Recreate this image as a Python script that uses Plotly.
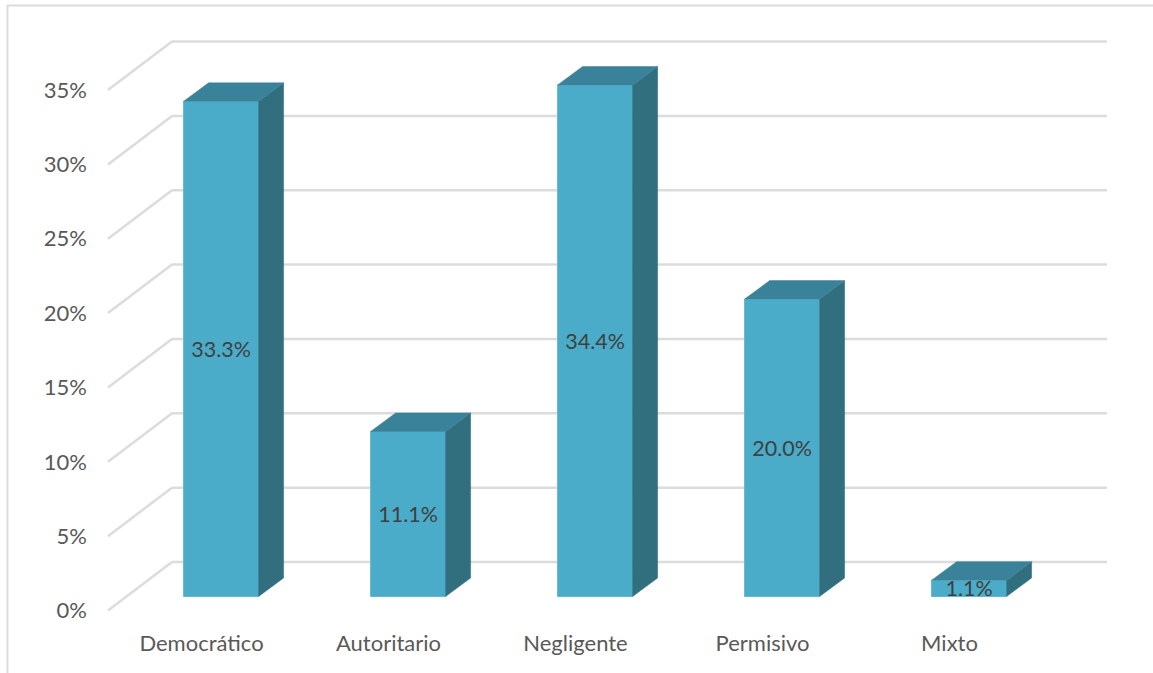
import plotly.graph_objects as go

categories = ["Democrático", "Autoritario", "Negligente", "Permisivo", "Mixto"]
values = [33.3, 11.1, 34.4, 20.0, 1.1]
labels = ["33.3%", "11.1%", "34.4%", "20.0%", "1.1%"]
y_ticks = [0, 5, 10, 15, 20, 25, 30, 35]
y_tick_labels = ["0%", "5%", "10%", "15%", "20%", "25%", "30%", "35%"]

# Pixel geometry of the pseudo-3D projection
W, H = 1153, 673
LEFT, RIGHT, TOP, BOTTOM = 100.0, 1115.0, 34.0, 620.0   # plot area in pixels
FRONT_LEFT, FRONT_ZERO = 108.0, 610.5                    # where x=-0.5, y=0 fall
PX_PER_CAT = 187.0
PX_PER_PCT = 14.87
to_x = lambda px: px / PX_PER_CAT
to_y = lambda px: px / PX_PER_PCT

x0_front = -0.5
x_min = x0_front - to_x(FRONT_LEFT - LEFT)
x_max = x0_front + to_x(RIGHT - FRONT_LEFT)
y_min = -to_y(BOTTOM - FRONT_ZERO)
y_max = to_y(FRONT_ZERO - TOP)
grid_end = x0_front + to_x(1107 - FRONT_LEFT)

wall_dx, wall_dy = to_x(64), to_y(48.5)
bar_dx, bar_base = to_x(19.6), to_y(14)
bar_w = to_x(75)
dep_x, dep_y = to_x(25), to_y(18.5)

FRONT, TOPC, SIDE = "#4aacc8", "#3a8299", "#316e7e"
GRID, TEXT, LABEL = "#dcdcdc", "#595959", "#404040"
FONT = "Lato, Carlito, Calibri, sans-serif"

fig = go.Figure()

xs = [i + bar_dx for i in range(len(categories))]

fig.add_trace(go.Bar(
    x=xs, y=values, base=[bar_base] * len(values), width=bar_w,
    marker=dict(color=FRONT, line=dict(color="#62b8d0", width=1)),
    showlegend=False, hoverinfo="skip",
))

for x, v in zip(xs, values):
    l, r = x - bar_w / 2, x + bar_w / 2
    b, t = bar_base, bar_base + v
    fig.add_trace(go.Scatter(
        x=[r, r + dep_x, r + dep_x, r, r], y=[b, b + dep_y, t + dep_y, t, b],
        mode="lines", fill="toself", fillcolor=SIDE,
        line=dict(color=SIDE, width=0.5),
        showlegend=False, hoverinfo="skip", cliponaxis=False,
    ))
    fig.add_trace(go.Scatter(
        x=[l, l + dep_x, r + dep_x, r, l], y=[t, t + dep_y, t + dep_y, t, t],
        mode="lines", fill="toself", fillcolor=TOPC,
        line=dict(color=TOPC, width=0.5),
        showlegend=False, hoverinfo="skip", cliponaxis=False,
    ))

fig.add_trace(go.Scatter(
    x=xs, y=[bar_base + v / 2 - to_y(2.5) for v in values],
    mode="text", text=labels, textposition="middle center",
    textfont=dict(family=FONT, size=21.5, color=LABEL),
    showlegend=False, hoverinfo="skip", cliponaxis=False,
))

shapes = []
for v in y_ticks:
    shapes.append(dict(type="line", xref="x", yref="y", layer="below",
                       x0=x0_front, y0=v, x1=x0_front + wall_dx, y1=v + wall_dy,
                       line=dict(color=GRID, width=2.5)))
    shapes.append(dict(type="line", xref="x", yref="y", layer="below",
                       x0=x0_front + wall_dx, y0=v + wall_dy, x1=grid_end, y1=v + wall_dy,
                       line=dict(color=GRID, width=2.5)))
# Outer chart frame: top and left edges only
px = lambda p: (p - LEFT) / (RIGHT - LEFT)
py = lambda p: (BOTTOM - p) / (BOTTOM - TOP)
shapes.append(dict(type="line", xref="paper", yref="paper", layer="below",
                   x0=px(7), x1=px(W), y0=py(5.5), y1=py(5.5),
                   line=dict(color=GRID, width=2)))
shapes.append(dict(type="line", xref="paper", yref="paper", layer="below",
                   x0=px(7.5), x1=px(7.5), y0=py(5), y1=py(H),
                   line=dict(color=GRID, width=2)))

fig.update_layout(
    width=W, height=H,
    margin=dict(l=LEFT, r=W - RIGHT, t=TOP, b=H - BOTTOM, pad=0),
    paper_bgcolor="white", plot_bgcolor="rgba(0,0,0,0)",
    shapes=shapes, barmode="overlay",
    font=dict(family=FONT, color=TEXT, size=22),
    xaxis=dict(range=[x_min, x_max], tickmode="array",
               tickvals=list(range(len(categories))), ticktext=categories,
               showgrid=False, zeroline=False, showline=False, ticks="",
               ticklabelstandoff=8,
               tickfont=dict(family=FONT, size=22, color=TEXT)),
    yaxis=dict(range=[y_min, y_max], tickmode="array",
               tickvals=y_ticks, ticktext=y_tick_labels,
               showgrid=False, zeroline=False, showline=False, ticks="",
               ticklabelstandoff=12,
               tickfont=dict(family=FONT, size=22, color=TEXT)),
)

fig.write_html("out.html", config=dict(displayModeBar=False),
               post_script="document.body.style.margin='0';document.body.style.overflow='hidden';")
